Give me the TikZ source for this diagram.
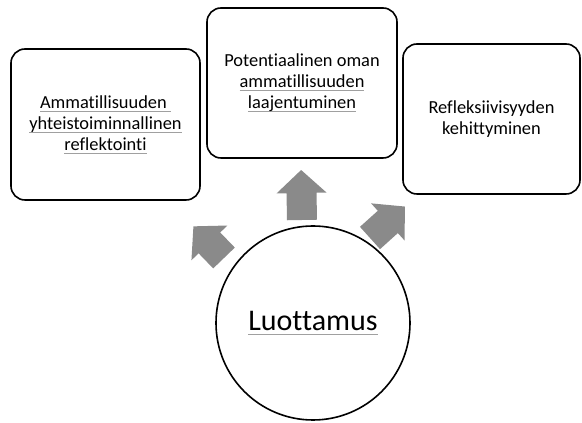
\documentclass[tikz,border=0pt]{standalone}
\usepackage{fontspec}
\setmainfont{Carlito}[Ligatures=NoCommon]
\definecolor{arrowgray}{HTML}{8A8A8A}
\definecolor{ulgray}{HTML}{A0A0A0}
\newcommand\gul[1]{\leavevmode\setbox0\hbox{#1}\rlap{\textcolor{ulgray}{\rule[-0.3ex]{\wd0}{0.6pt}}}\box0}
\tikzset{
  box/.style={draw, line width=1.6pt, rounded corners=14pt, align=center,
    inner sep=0pt, font=\fontsize{18.4}{21}\selectfont},
  garrow/.style={fill=arrowgray, draw=none},
}
\newcommand\blockarrow[4]{%
  \fill[garrow, shift={(#1,#2)}, rotate=#3]
    (0,-15) -- ({#4-23},-15) -- ({#4-23},-25) -- (#4,0) -- ({#4-23},25)
    -- ({#4-23},15) -- (0,15) -- cycle;}
\begin{document}
\begin{tikzpicture}[x=1pt,y=1pt]
\useasboundingbox (0,0) rectangle (582,423);
\node[box, minimum width=189pt, minimum height=151pt] (left) at (105.5,298.5)
  {\gul{Ammatillisuuden\ }\\ \gul{yhteistoiminnallinen}\\ \gul{reflektointi}};
\node[box, minimum width=190pt, minimum height=150pt] (mid) at (302,340)
  {Potentiaalinen oman\\ \gul{ammatillisuuden}\\ \gul{laajentuminen}};
\node[box, minimum width=177pt, minimum height=150pt] (right) at (491.5,304)
  {Refleksiivisyyden\\ kehittyminen};
\node[draw, circle, line width=1.6pt, minimum size=194pt, inner sep=0pt,
  font=\fontsize{30}{34}\selectfont] (center) at (313,100) {\gul{Luottamus}};
\blockarrow{224}{165}{134}{44}
\blockarrow{302}{203}{91}{50}
\blockarrow{370}{185}{42}{47}
\end{tikzpicture}
\end{document}
